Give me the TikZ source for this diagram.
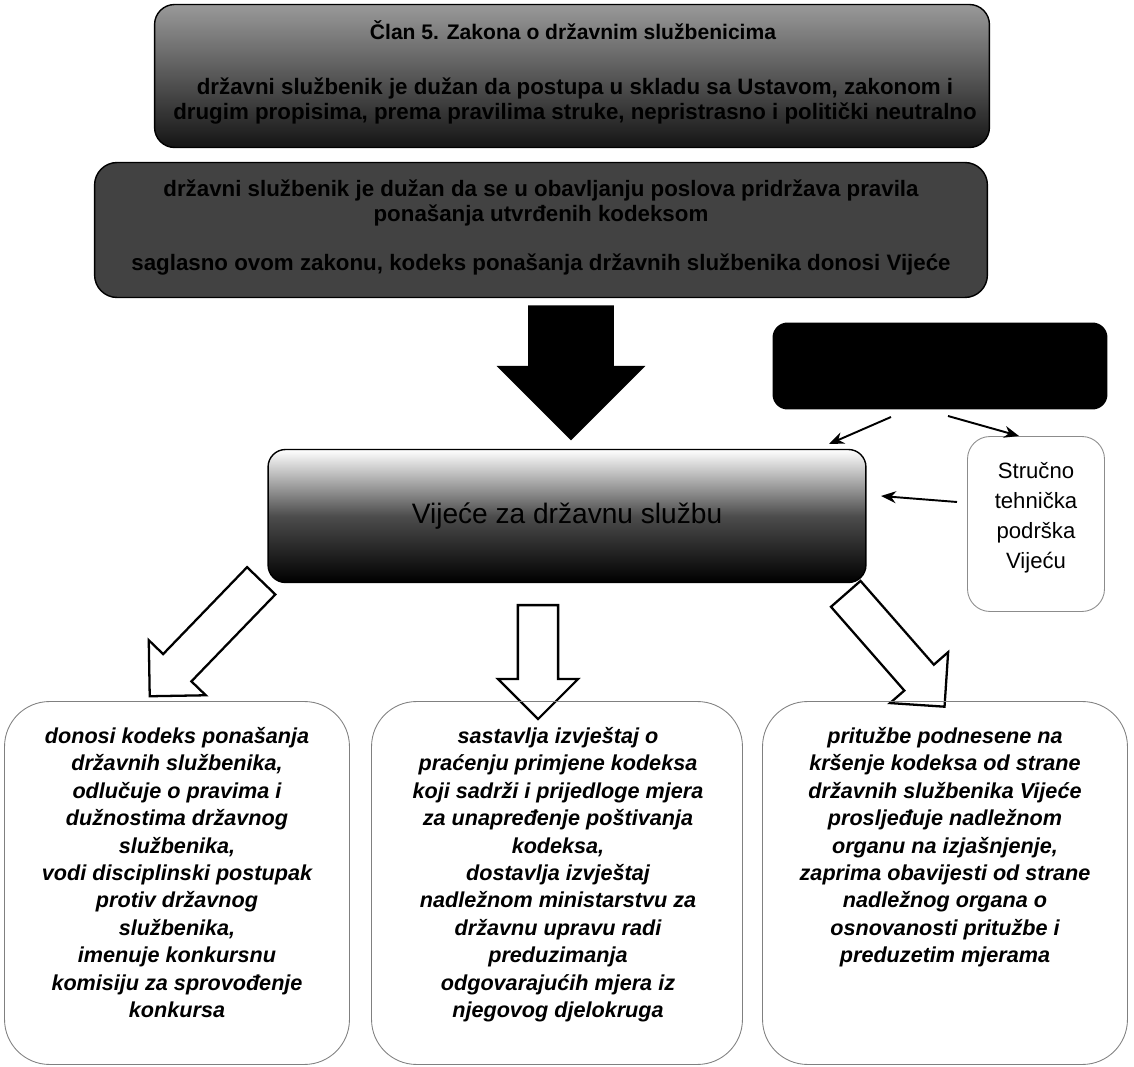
\documentclass[tikz,border=0pt]{standalone}
\usepackage{fontspec}
\setmainfont{Liberation Sans}
\usetikzlibrary{arrows.meta,positioning,shapes.arrows}

\tikzset{
  lawbox/.style={draw=black, line width=0.8pt, rounded corners=0.4cm,
    top color=black!40, bottom color=black!92},
  dutybox/.style={draw=black, line width=0.8pt, rounded corners=0.45cm, fill=black!74},
  boldtext/.style={font=\bfseries\fontsize{12.7}{14.2}\selectfont, align=center, inner sep=0pt},
  councilbox/.style={draw=black, line width=0.8pt, rounded corners=0.35cm,
    top color=white, bottom color=black, middle color=black!70},
  officebox/.style={fill=black, rounded corners=0.3cm},
  aidbox/.style={draw=black!45, line width=0.5pt, rounded corners=0.45cm},
  taskbox/.style={draw=black!50, line width=0.5pt, rounded corners=0.9cm},
  tasktext/.style={font=\bfseries\itshape\fontsize{12.3}{15.6}\selectfont, align=center, inner sep=0pt, anchor=north},
  hollowarrow/.style={single arrow, draw=black, line width=1.3pt, fill=white, inner xsep=0pt, anchor=tail},
  arr/.style={-{Stealth[length=3mm,width=2.4mm]}, line width=1.1pt}
}

\begin{document}
\begin{tikzpicture}[x=0.02cm, y=-0.02cm]
  \useasboundingbox (0,0) rectangle (1134,1067);

  % Clan 5.
  \node[lawbox, minimum width=16.7cm, minimum height=2.86cm] (law) at (572,76) {};
  \node[font=\bfseries\fontsize{12}{14}\selectfont] (lawhead) at (573,30) {Član 5. Zakona o državnim službenicima};
  \node[boldtext] (lawbody) at (575,101) {državni službenik je dužan da postupa u skladu sa Ustavom, zakonom i\\
    drugim propisima, prema pravilima struke, nepristrasno i politički neutralno};

  \node[dutybox, minimum width=17.86cm, minimum height=2.7cm] (duty) at (541,230) {};
  \node[boldtext] (dutya) at (541,203) {državni službenik je dužan da se u obavljanju poslova pridržava pravila\\
    ponašanja utvrđenih kodeksom};
  \node[boldtext] (dutyb) at (541,265) {saglasno ovom zakonu, kodeks ponašanja državnih službenika donosi Vijeće};

  \node[single arrow, fill=black, inner xsep=0pt, inner ysep=0.85cm, anchor=tail, rotate=-90,
    minimum height=2.7cm, single arrow head extend=0.63cm] (bigdown) at (571,305) {};

  % nadleznosti (strelice ispod okvira Vijeca)
  \node[hollowarrow, rotate=226, minimum height=3.21cm, inner ysep=0.37cm,
    single arrow head extend=0.4cm] (downL) at (262,580) {};
  \node[hollowarrow, rotate=-90, minimum height=2.28cm, inner ysep=0.38cm,
    single arrow head extend=0.4cm] (downM) at (538,604) {};
  \node[hollowarrow, rotate=-48.8, minimum height=3.0cm, inner ysep=0.37cm,
    single arrow head extend=0.38cm] (downR) at (845,593) {};

  % Vijece i podrska
  \node[officebox, minimum width=6.7cm, minimum height=1.74cm] (office) at (940,366) {};
  \node[councilbox, minimum width=11.96cm, minimum height=2.66cm,
    font=\fontsize{16}{18}\selectfont] (council) at (567,516) {Vijeće za državnu službu};
  \node[aidbox, minimum width=2.74cm, minimum height=3.5cm] (aid) at (1036,524) {};
  \node[align=center, inner sep=0pt, font=\fontsize{12.6}{17}\selectfont] (aidtext) at (1036,518) {Stručno\\tehnička\\podrška\\Vijeću};

  \coordinate (o1) at (891,417);
  \coordinate (c1) at (829,444);
  \coordinate (o2) at (948,416);
  \coordinate (s1) at (1019,436);
  \coordinate (s2) at (957,502);
  \coordinate (c2) at (881,496);
  \draw[arr] (o1) -- (c1);
  \draw[arr] (o2) -- (s1);
  \draw[arr] (s2) -- (c2);

  \node[taskbox, minimum width=6.9cm, minimum height=7.26cm] (taskL) at (177,883) {};
  \node[taskbox, minimum width=7.42cm, minimum height=7.26cm] (taskM) at (557,883) {};
  \node[taskbox, minimum width=7.3cm, minimum height=7.26cm] (taskR) at (945,883) {};

  \node[tasktext] (textL) at (177,727) {donosi kodeks ponašanja\\državnih službenika,\\odlučuje o pravima i\\
    dužnostima državnog\\službenika,\\vodi disciplinski postupak\\protiv državnog\\službenika,\\
    imenuje konkursnu\\komisiju za sprovođenje\\konkursa};
  \node[tasktext] (textM) at (558,727) {sastavlja izvještaj o\\praćenju primjene kodeksa\\koji sadrži i prijedloge mjera\\
    za unapređenje poštivanja\\kodeksa,\\dostavlja izvještaj\\nadležnom ministarstvu za\\
    državnu upravu radi\\preduzimanja\\odgovarajućih mjera iz\\njegovog djelokruga};
  \node[tasktext] (textR) at (945,727) {pritužbe podnesene na\\kršenje kodeksa od strane\\državnih službenika Vijeće\\
    prosljeđuje nadležnom\\organu na izjašnjenje,\\zaprima obavijesti od strane\\nadležnog organa o\\
    osnovanosti pritužbe i\\preduzetim mjerama};
\end{tikzpicture}
\end{document}
